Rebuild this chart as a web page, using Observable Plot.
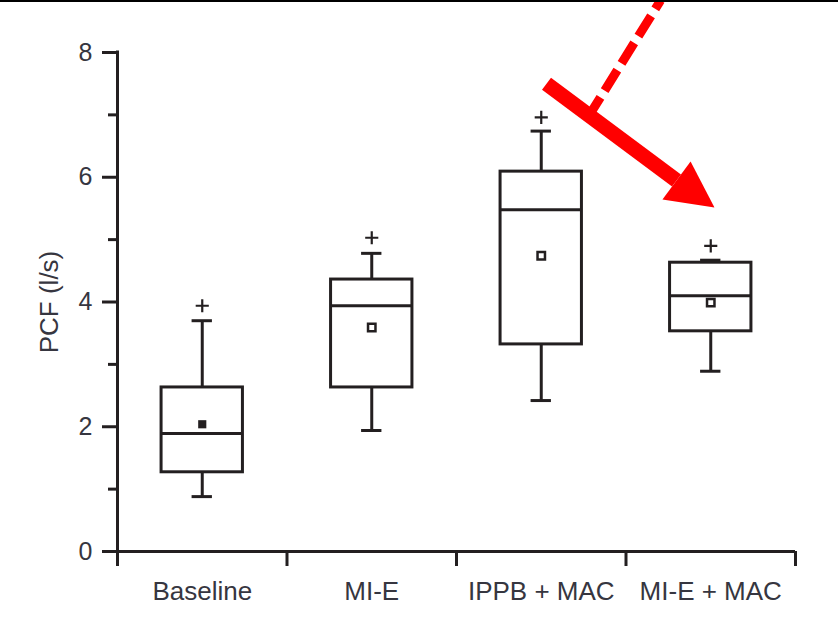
<!DOCTYPE html>
<html>
<head>
<meta charset="utf-8">
<script src="https://cdn.jsdelivr.net/npm/d3@7"></script>
<script src="https://cdn.jsdelivr.net/npm/@observablehq/plot@0.6"></script>
<style>
  html, body { margin: 0; padding: 0; background: #fff; }
  #wrap { position: relative; width: 838px; height: 635px; overflow: hidden; }
  #topline { position: absolute; left: 0; top: 0; width: 838px; height: 2px; background: #000; }
  svg { display: block; }
</style>
</head>
<body>
<div id="wrap"><div id="topline"></div></div>
<script>
// ---- data ----
const categories = ["Baseline", "MI-E", "IPPB + MAC", "MI-E + MAC"];
const whiskerLow  = [0.88, 1.94, 2.42, 2.89];
const q1          = [1.27, 2.63, 3.32, 3.53];
const median      = [1.89, 3.94, 5.48, 4.10];
const q3          = [2.63, 4.36, 6.09, 4.63];
const whiskerHigh = [3.70, 4.78, 6.74, 4.67];
const means       = [2.04, 3.59, 4.74, 3.99];
const outliers    = [3.94, 5.03, 6.96, 4.90];
const meanFilled  = [true, false, false, false];
const yMajorTicks = [0, 2, 4, 6, 8];
const yMinorTicks = [1, 3, 5, 7];
const yLabel = "PCF (l/s)";
// annotation arrows (in data units: x = category-band units, y = PCF)
const arrowShaftX = [2.531, 3.298];
const arrowShaftY = [7.50, 5.947];
const arrowHeadX  = [3.381, 3.522, 3.215];
const arrowHeadY  = [6.252, 5.515, 5.643];
const dashedX     = [3.204, 2.779];
const dashedY     = [8.834, 6.974];

// ---- build table ----
const rows = categories.map((c, i) => ({
  cat: c, xc: i + 0.5,
  lo: whiskerLow[i], q1: q1[i], med: median[i], q3: q3[i], hi: whiskerHigh[i],
  mean: means[i], out: outliers[i], filled: meanFilled[i]
}));
const boundaries = d3.range(categories.length + 1);
const shaft = arrowShaftX.map((x, i) => ({x, y: arrowShaftY[i]}));
const head = arrowHeadX.map((x, i) => ({x, y: arrowHeadY[i]}));
const dashed = dashedX.map((x, i) => ({x, y: dashedY[i]}));

const ink = "#231f20";
const textInk = "#363640";
const bw = 0.24, cw = 0.06;

const chart = Plot.plot({
  width: 838,
  height: 635,
  marginTop: 52,
  marginBottom: 84,
  marginLeft: 117,
  marginRight: 43,
  style: {fontFamily: "'Liberation Sans', Arial, sans-serif", fontSize: "25px", background: "transparent"},
  x: {domain: [0, categories.length], axis: null},
  y: {domain: [0, 8], axis: null},
  marks: [
    // whiskers
    Plot.ruleX(rows, {x: "xc", y1: "q3", y2: "hi", stroke: ink, strokeWidth: 3}),
    Plot.ruleX(rows, {x: "xc", y1: "lo", y2: "q1", stroke: ink, strokeWidth: 3}),
    Plot.ruleY(rows, {y: "hi", x1: d => d.xc - cw, x2: d => d.xc + cw, stroke: ink, strokeWidth: 3}),
    Plot.ruleY(rows, {y: "lo", x1: d => d.xc - cw, x2: d => d.xc + cw, stroke: ink, strokeWidth: 3}),
    // boxes
    Plot.rect(rows, {x1: d => d.xc - bw, x2: d => d.xc + bw, y1: "q1", y2: "q3", fill: "white", stroke: ink, strokeWidth: 3}),
    Plot.ruleY(rows, {y: "med", x1: d => d.xc - bw, x2: d => d.xc + bw, stroke: ink, strokeWidth: 3}),
    // means
    Plot.dot(rows.filter(d => d.filled), {x: "xc", y: "mean", symbol: "square", r: 4.6, fill: ink, stroke: "none"}),
    Plot.dot(rows.filter(d => !d.filled), {x: "xc", y: "mean", symbol: "square", r: 4.2, fill: "white", stroke: ink, strokeWidth: 2.5}),
    // outliers
    Plot.dot(rows, {x: "xc", y: "out", symbol: "plus", r: 4.3, stroke: ink, strokeWidth: 2.2}),
    // axes
    Plot.ruleX([0], {y1: 0, y2: 8, stroke: ink, strokeWidth: 3, strokeLinecap: "square"}),
    Plot.ruleY([0], {x1: 0, x2: categories.length, stroke: ink, strokeWidth: 3}),
    Plot.axisX({ticks: boundaries, tickSize: 15, tickFormat: () => "", stroke: ink, strokeWidth: 3, label: null}),
    Plot.axisY({ticks: yMajorTicks, tickSize: 15, tickPadding: 10, stroke: ink, fill: textInk, strokeWidth: 3, fontSize: 25, label: null}),
    Plot.axisY({ticks: yMinorTicks, tickSize: 9, tickFormat: () => "", stroke: ink, strokeWidth: 3, label: null}),
    Plot.text(rows, {x: "xc", y: 0, text: "cat", dy: 40, fill: textInk, fontSize: 26, textAnchor: "middle", lineAnchor: "middle"}),
    Plot.text([yLabel], {frameAnchor: "left", dx: -68, rotate: -90, fill: textInk, fontSize: 26, textAnchor: "middle", lineAnchor: "middle"}),
    // annotations
    Plot.line(dashed, {x: "x", y: "y", stroke: "#ff0000", strokeWidth: 9, strokeDasharray: "24,8", strokeDashoffset: 14, strokeLinecap: "butt"}),
    Plot.line(shaft, {x: "x", y: "y", stroke: "#ff0000", strokeWidth: 15, strokeLinecap: "butt"}),
    Plot.line(head, {x: "x", y: "y", fill: "#ff0000", stroke: "none"})
  ]
});
document.getElementById("wrap").prepend(chart);
</script>
</body>
</html>
